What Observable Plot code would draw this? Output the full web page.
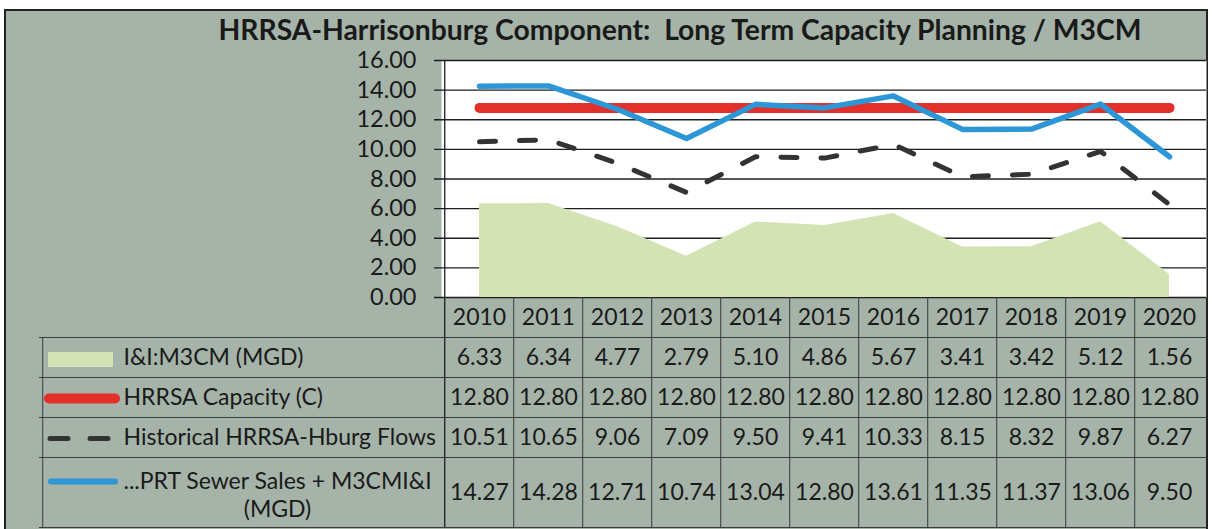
<!DOCTYPE html>
<html><head><meta charset="utf-8">
<script src="https://cdn.jsdelivr.net/npm/d3@7"></script>
<script src="https://cdn.jsdelivr.net/npm/@observablehq/plot@0.6"></script>
<style>
html,body{margin:0;padding:0;background:#fff;}
#wrap{position:absolute;left:4px;top:9px;border-left:2px solid #222;border-top:2px solid #222;border-right:2px solid #222;}
#wrap svg{display:block;}
</style></head><body><div id="wrap"></div>
<script>
// ---- data ----
const years = ["2010","2011","2012","2013","2014","2015","2016","2017","2018","2019","2020"];
const inflowII = [6.33, 6.34, 4.77, 2.79, 5.10, 4.86, 5.67, 3.41, 3.42, 5.12, 1.56];
const capacity = [12.80, 12.80, 12.80, 12.80, 12.80, 12.80, 12.80, 12.80, 12.80, 12.80, 12.80];
const historical = [10.51, 10.65, 9.06, 7.09, 9.50, 9.41, 10.33, 8.15, 8.32, 9.87, 6.27];
const prtSales = [14.27, 14.28, 12.71, 10.74, 13.04, 12.80, 13.61, 11.35, 11.37, 13.06, 9.50];
const yTicks = [0, 2, 4, 6, 8, 10, 12, 14, 16];
const seriesLabels = ["I&I:M3CM (MGD)", "HRRSA Capacity (C)", "Historical HRRSA-Hburg Flows", "...PRT Sewer Sales + M3CMI&I", "(MGD)"];
const title = "HRRSA-Harrisonburg Component:\u00a0 Long Term Capacity Planning / M3CM";

const rows = years.map((year, i) => ({year, inflow: inflowII[i], cap: capacity[i], hist: historical[i], prt: prtSales[i]}));

// ---- layout ----
const W = 1200, H = 518, mL = 435, mR = 0, mT = 49, mB = 232;
const frameH = H - mT - mB;
const step = (W - mL - mR) / years.length;
const rowEdges = [40, 80, 120, 160, 230];
const legendLeft = -402;
const FS = 23;
const ink = "#1a1a1a";
const lineC = "#3a3a3a";
const fmt = d => d.toFixed(2);

const marks = [
  Plot.frame({fill: "#ffffff", stroke: null}),
  Plot.ruleY(yTicks, {y: d => d, stroke: "#1e1e1e", strokeWidth: 1.3, insetLeft: -7}),
  Plot.areaY(rows, {x: "year", y: "inflow", fill: "#d3e3b3"}),
  Plot.ruleX([years[0]], {x: d => d, dx: -step / 2, insetBottom: -230, stroke: "#1e1e1e", strokeWidth: 1.3}),
  Plot.lineY(rows, {x: "year", y: "cap", stroke: "#e3302b", strokeWidth: 10, strokeLinecap: "round"}),
  Plot.lineY(rows, {x: "year", y: "hist", stroke: "#333333", strokeWidth: 5, strokeDasharray: "16,24", strokeLinecap: "round"}),
  Plot.lineY(rows, {x: "year", y: "prt", stroke: "#2d96d6", strokeWidth: 5.5, strokeLinecap: "round", strokeLinejoin: "round"}),
  Plot.axisY(yTicks, {tickSize: 0, tickPadding: 25, tickFormat: fmt, fontSize: 23.5, fill: ink, label: null}),
  // title
  Plot.text([title], {text: d => d, frameAnchor: "top", lineAnchor: "middle", dx: -144, dy: -30, fontSize: 28.3, fontWeight: "bold", fill: ink}),
  // table grid
  Plot.ruleX(years.slice(1), {x: d => d, dx: -step / 2, insetTop: frameH, insetBottom: -230, stroke: lineC, strokeWidth: 1}),
  Plot.ruleX([years[0]], {x: d => d, dx: -step / 2 + legendLeft, insetTop: frameH + 40, insetBottom: -230, stroke: lineC, strokeWidth: 1}),
  ...rowEdges.map(e => Plot.ruleY([0], {y: d => d, dy: e, insetLeft: legendLeft, stroke: lineC, strokeWidth: 1})),
  // header + values
  Plot.text(years, {x: d => d, frameAnchor: "bottom", lineAnchor: "middle", dy: 20, fontSize: FS, fill: ink}),
  Plot.text(rows, {x: "year", text: d => fmt(d.inflow), frameAnchor: "bottom", lineAnchor: "middle", dy: 60, fontSize: FS, fill: ink}),
  Plot.text(rows, {x: "year", text: d => fmt(d.cap), frameAnchor: "bottom", lineAnchor: "middle", dy: 100, fontSize: FS, fill: ink}),
  Plot.text(rows, {x: "year", text: d => fmt(d.hist), frameAnchor: "bottom", lineAnchor: "middle", dy: 140, fontSize: FS, fill: ink}),
  Plot.text(rows, {x: "year", text: d => fmt(d.prt), frameAnchor: "bottom", lineAnchor: "middle", dy: 195, fontSize: FS, fill: ink}),
  // legend swatches
  Plot.ruleY([0], {y: d => d, dy: 62, insetLeft: -393, insetRight: 1093, stroke: "#d3e3b3", strokeWidth: 15}),
  Plot.ruleY([0], {y: d => d, dy: 101, insetLeft: -392, insetRight: 1091, stroke: "#e3302b", strokeWidth: 10, strokeLinecap: "round"}),
  Plot.ruleY([0], {y: d => d, dy: 141, insetLeft: -391, insetRight: 1098, stroke: "#333333", strokeWidth: 5, strokeDasharray: "18,22", strokeLinecap: "round"}),
  Plot.ruleY([0], {y: d => d, dy: 184, insetLeft: -390, insetRight: 1091, stroke: "#2d96d6", strokeWidth: 6, strokeLinecap: "round"}),
  // legend labels
  Plot.text([seriesLabels[0]], {text: d => d, frameAnchor: "bottom-left", lineAnchor: "middle", dx: -318, dy: 60, textAnchor: "start", fontSize: FS, fill: ink}),
  Plot.text([seriesLabels[1]], {text: d => d, frameAnchor: "bottom-left", lineAnchor: "middle", dx: -318, dy: 100, textAnchor: "start", fontSize: FS, fill: ink}),
  Plot.text([seriesLabels[2]], {text: d => d, frameAnchor: "bottom-left", lineAnchor: "middle", dx: -318, dy: 140, textAnchor: "start", fontSize: FS, fill: ink}),
  Plot.text([seriesLabels[3]], {text: d => d, frameAnchor: "bottom-left", lineAnchor: "middle", dx: -318, dy: 184, textAnchor: "start", fontSize: FS, fill: ink}),
  Plot.text([seriesLabels[4]], {text: d => d, frameAnchor: "bottom-left", lineAnchor: "middle", dx: -164, dy: 212, textAnchor: "middle", fontSize: FS, fill: ink})
];

const chart = Plot.plot({
  width: W, height: H,
  marginLeft: mL, marginRight: mR, marginTop: mT, marginBottom: mB,
  x: {type: "point", domain: years, padding: 0.5, axis: null},
  y: {domain: [0, 16], axis: null, label: null},
  style: {background: "#a5b3a8", fontFamily: "Lato, 'Open Sans', sans-serif", color: ink, overflow: "visible"},
  marks
});
document.getElementById("wrap").appendChild(chart);
</script>
</body></html>
